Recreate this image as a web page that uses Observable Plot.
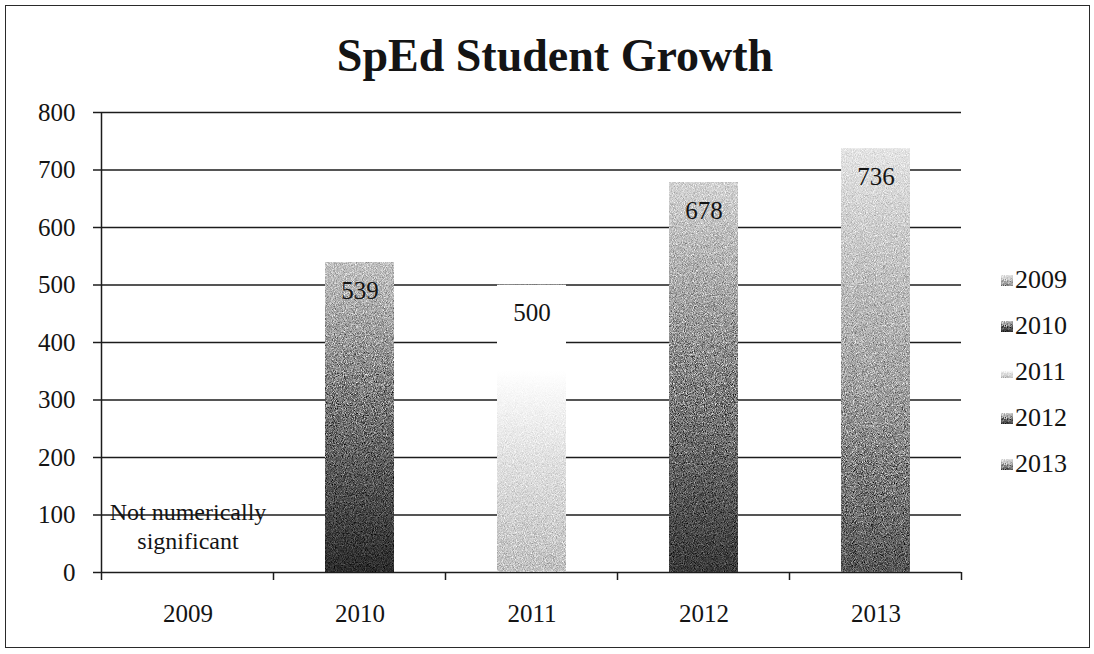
<!DOCTYPE html>
<html>
<head>
<meta charset="utf-8">
<script src="https://cdn.jsdelivr.net/npm/d3@7"></script>
<script src="https://cdn.jsdelivr.net/npm/@observablehq/plot@0.6"></script>
<style>
  body { margin: 0; background: #fff; }
  #frame { position: relative; width: 1094px; height: 654px; overflow: hidden;
           font-family: "Liberation Serif", serif; color: #141414; }
  #border { position: absolute; left: 5px; top: 5px; width: 1085px; height: 643px;
            border: 1.5px solid #2a2a2a; box-sizing: border-box; pointer-events: none; }
  #title { position: relative; height: 100px; }
  #title span { position: absolute; left: 555px; top: 33px; transform: translateX(-50%);
                font-size: 46px; font-weight: bold; line-height: 46px; white-space: nowrap; }
  #legend { position: absolute; left: 1001px; top: 257px; }
  #legend .item { display: flex; align-items: center; height: 46px; font-size: 26px; }
  #legend svg { margin-right: 2px; }
</style>
</head>
<body>
<div id="frame">
  <div id="title"><span>SpEd Student Growth</span></div>
  <div id="chart"></div>
  <div id="legend"></div>
  <div id="border"></div>
</div>
<script>
// Enrolment of special-education students per school year
const years = ["2009", "2010", "2011", "2012", "2013"];
const students = [0, 539, 500, 678, 736];
const note2009 = "Not numerically\nsignificant";
const yTicks = [0, 100, 200, 300, 400, 500, 600, 700, 800];

// Vertical grey ramps (bottom → top) that shade each year's bar
const ramps = {
  "2009": [["0%", "#8e8e8e"], ["55%", "#c2c2c2"], ["100%", "#e6e6e6"]],
  "2010": [["0%", "#2c2c2c"], ["45%", "#6c6c6c"], ["100%", "#c4c4c4"]],
  "2011": [["0%", "#c2c2c2"], ["40%", "#e2e2e2"], ["70%", "#ffffff"], ["100%", "#ffffff"]],
  "2012": [["0%", "#3a3a3a"], ["50%", "#868686"], ["100%", "#d4d4d4"]],
  "2013": [["0%", "#575757"], ["45%", "#a4a4a4"], ["100%", "#e4e4e4"]]
};

const rows = years.map((year, i) => ({
  year,
  students: students[i],
  fill: `url(#bar-${year})`,
  label: students[i] > 0 ? String(students[i]) : note2009
}));

const chart = Plot.plot({
  width: 1094,
  height: 554,
  marginTop: 12,
  marginBottom: 82,
  marginLeft: 101,
  marginRight: 133,
  style: { fontFamily: '"Liberation Serif", serif', fontSize: "25px", color: "#141414", background: "transparent" },
  x: { domain: years, paddingInner: 0.6, paddingOuter: 0.3, label: null },
  y: { domain: [0, 800], label: null },
  color: { type: "identity" },
  marks: [
    Plot.ruleY(yTicks, { stroke: "#1c1c1c", strokeWidth: 1.5 }),
    Plot.barY(rows.filter(d => d.students > 0), {
      x: "year", y: "students", fill: "fill", filter: null
    }),
    Plot.text(rows.filter(d => d.students > 0), {
      x: "year", y: "students", text: "label", dy: 28, fontSize: 25
    }),
    Plot.text(rows.filter(d => d.students === 0), {
      x: "year", y: "students", text: "label", dy: -47, fontSize: 24, lineHeight: 1.2
    }),
    Plot.axisY({ ticks: yTicks, tickSize: 8, tickPadding: 18, stroke: "#1c1c1c", strokeWidth: 1.5, label: null }),
    Plot.axisX({ tickSize: 0, tickPadding: 32, label: null })
  ]
});

const svg = d3.select(chart);

// Gradients and a speckle filter for the bar fills
const defs = svg.insert("defs", ":first-child");
for (const year of years) {
  const g = defs.append("linearGradient").attr("id", `bar-${year}`)
    .attr("x1", 0).attr("y1", 1).attr("x2", 0).attr("y2", 0);
  for (const [offset, color] of ramps[year]) {
    g.append("stop").attr("offset", offset).attr("stop-color", color);
  }
}
const grain = defs.append("filter").attr("id", "grain").attr("color-interpolation-filters", "sRGB");
grain.append("feTurbulence").attr("type", "fractalNoise").attr("baseFrequency", 1.1)
  .attr("numOctaves", 2).attr("seed", 5).attr("result", "noise");
grain.append("feColorMatrix").attr("in", "noise").attr("type", "matrix")
  .attr("values", "0.33 0.33 0.33 0 0  0.33 0.33 0.33 0 0  0.33 0.33 0.33 0 0  0 0 0 0 1")
  .attr("result", "gray");
const ct = grain.append("feComponentTransfer").attr("in", "gray").attr("result", "contrast");
for (const f of ["feFuncR", "feFuncG", "feFuncB"]) {
  ct.append(f).attr("type", "linear").attr("slope", 2.4).attr("intercept", -0.7);
}
grain.append("feBlend").attr("in", "contrast").attr("in2", "SourceGraphic").attr("mode", "overlay").attr("result", "blend");
grain.append("feComposite").attr("in", "blend").attr("in2", "SourceGraphic").attr("operator", "in");

svg.selectAll("g[aria-label='bar'] rect").attr("filter", "url(#grain)");

// Y axis line and category-boundary ticks on the x axis
const xs = chart.scale("x");
const ys = chart.scale("y");
const gap = (xs.step - xs.bandwidth) / 2;
const edges = years.map(y => xs.apply(y) - gap);
edges.push(xs.apply(years[years.length - 1]) + xs.bandwidth + gap);
const y0 = ys.apply(0);
const yTop = ys.apply(800);
const axes = svg.append("g").attr("stroke", "#1c1c1c").attr("stroke-width", 1.5);
axes.append("line").attr("x1", edges[0]).attr("x2", edges[0]).attr("y1", yTop).attr("y2", y0);
axes.selectAll("line.edge").data(edges).join("line").attr("class", "edge")
  .attr("x1", d => d).attr("x2", d => d).attr("y1", y0).attr("y2", y0 + 8);

document.getElementById("chart").appendChild(chart);

// Legend: one swatch per year
const legend = d3.select("#legend");
for (const year of years) {
  const item = legend.append("div").attr("class", "item");
  const sw = item.append("svg").attr("width", 12).attr("height", 11);
  sw.append("rect").attr("width", 12).attr("height", 11)
    .attr("fill", `url(#bar-${year})`).attr("filter", "url(#grain)");
  item.append("span").text(year);
}
</script>
</body>
</html>
